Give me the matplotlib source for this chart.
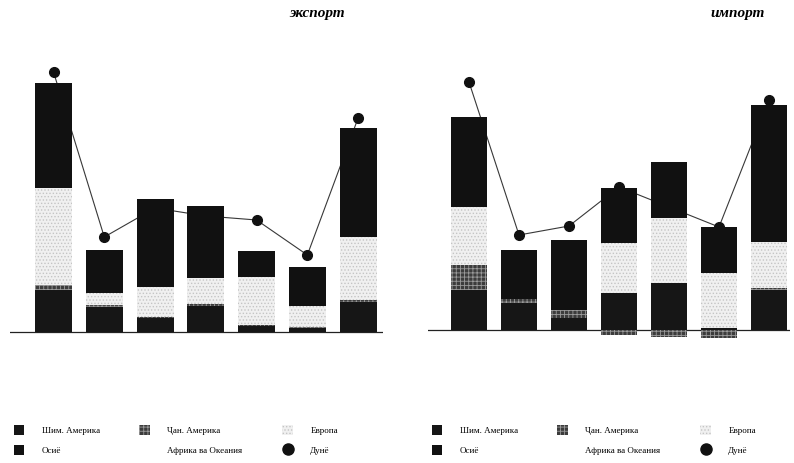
import numpy as np
import matplotlib
matplotlib.use('Agg')
import matplotlib.pyplot as plt
from matplotlib.patches import Patch
from matplotlib.lines import Line2D

plt.rcParams['font.family'] = ['Liberation Serif', 'DejaVu Serif']
plt.rcParams['hatch.linewidth'] = 0.6

# ── данные (условные единицы)
periods = ['1', '2', '3', '4', '5', '6', '7']
regions = ['Шим. Америка', 'Ҷан. Америка', 'Европа', 'Осиё', 'Африка ва Океания']
world_label = 'Дунё'

exp_na = [4.2, 2.5, 1.4, 2.6, 0.6, 0.4, 3.0]
exp_la = [0.5, 0.2, 0.1, 0.2, 0.1, 0.1, 0.2]
exp_eu = [9.7, 1.2, 3.0, 2.6, 4.8, 2.1, 6.3]
exp_as = [10.5, 4.3, 8.8, 7.2, 2.6, 3.9, 10.9]
exp_ot = [1.1, 1.3, 0.0, 0.0, 3.1, 1.2, 1.0]
exp_world = [26.0, 9.5, 12.4, 11.6, 11.2, 7.7, 21.4]

imp_na = [4.0, 2.7, 1.2, 3.7, 4.7, 0.2, 4.0]
imp_la = [2.5, 0.4, 0.8, -0.5, -0.7, -0.8, 0.2]
imp_eu = [5.8, 0.0, 0.0, 5.0, 6.5, 5.5, 4.6]
imp_as = [9.0, 4.9, 7.0, 5.5, 5.6, 4.6, 13.7]
imp_ot = [3.5, 1.5, 1.4, 0.0, 0.0, 0.0, 0.5]
imp_world = [24.8, 9.5, 10.4, 14.3, 12.3, 10.3, 23.0]

styles = [
    dict(facecolor='#161616', edgecolor='#161616', linewidth=0),
    dict(facecolor='#3c3c3c', edgecolor='#9a9a9a', hatch='++++', linewidth=0),
    dict(facecolor='#f0f0f0', edgecolor='#c4c4c4', hatch='.....', linewidth=0),
    dict(facecolor='#111111', edgecolor='#111111', linewidth=0),
    dict(facecolor='white', edgecolor='white', linewidth=0),
]
zorders = [3, 3, 3, 3, 1.5]

W, H = 794, 463
fig = plt.figure(figsize=(W / 100, H / 100), dpi=100)


def draw_panel(left, width, ylim, xlim, series, world, title, title_x):
    ax = fig.add_axes([left / W, 63 / H, width / W, 360 / H])
    x = np.arange(len(periods))
    pos = np.zeros(len(x))
    neg = np.zeros(len(x))
    for vals, st, z in zip(series, styles, zorders):
        vals = np.array(vals, dtype=float)
        bottom = np.where(vals >= 0, pos, neg)
        ax.bar(x, vals, 0.73, bottom=bottom, zorder=z, **st)
        pos += np.clip(vals, 0, None)
        neg += np.clip(vals, None, 0)
    ax.plot(x, world, color='#383838', lw=0.8, marker='o', ms=7,
            mfc='#111111', mec='#111111', zorder=2)
    ax.axhline(0, color='#222222', lw=0.9, zorder=1)
    ax.set_xlim(*xlim)
    ax.set_ylim(*ylim)
    ax.axis('off')

    handles = [Patch(**styles[0]), Patch(**styles[3]),
               Patch(**styles[1]), Patch(**styles[4]),
               Patch(**styles[2]),
               Line2D([], [], ls='none', marker='o', ms=8, mfc='#111111', mec='#111111')]
    labels = [regions[0], regions[3], regions[1], regions[4], regions[2], world_label]
    ax.legend(handles, labels, ncol=3, frameon=False, fontsize=6.5,
              loc='upper left', bbox_to_anchor=(0, -0.06),
              handlelength=1.2, handleheight=1.3, handletextpad=1.9,
              columnspacing=4.4, labelspacing=1.1, borderaxespad=0)
    fig.text(title_x / W, 1 - 13 / H, title, ha='right', va='center',
             fontsize=11, fontstyle='italic', fontweight='bold')
    return ax


draw_panel(10, 373, (-6.8, 29.2), (-0.857, 6.49),
           [exp_na, exp_la, exp_eu, exp_as, exp_ot], exp_world, 'экспорт', 345)
draw_panel(428, 362, (-7.0, 29.0), (-0.82, 6.42),
           [imp_na, imp_la, imp_eu, imp_as, imp_ot], imp_world, 'импорт', 765)

plt.savefig('out.png', dpi=100)
